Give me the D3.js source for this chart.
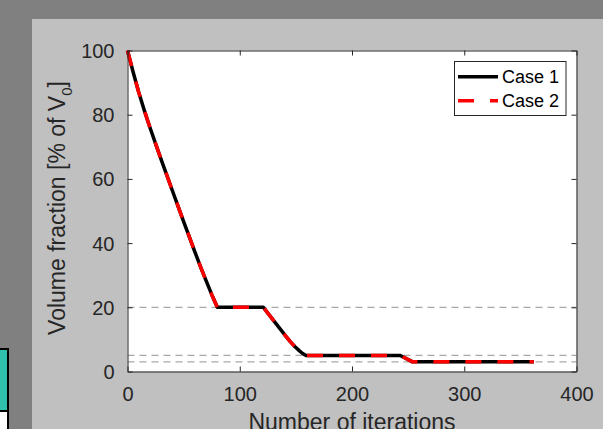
<!DOCTYPE html>
<html>
<head>
<meta charset="utf-8">
<script src="https://cdn.jsdelivr.net/npm/d3@7"></script>
<style>
  html, body { margin: 0; padding: 0; background: #808080; }
  svg { display: block; }
  text { font-family: "Liberation Sans", Arial, sans-serif; }
</style>
</head>
<body>
<svg id="chart" width="603" height="429"></svg>
<script>
// ---- data ----
const iterations = [0, 5, 10, 15, 20, 25, 30, 35, 40, 45, 50, 55, 60, 65, 70, 75, 80,
                    121, 125, 129, 133, 137, 141, 145, 149, 153, 156, 159,
                    243, 254, 362];
const case1 = [100, 93.3, 87, 81.3, 76, 71, 66, 61.2, 56.3, 51.5, 46.7, 42, 37.3, 32.7, 28.3, 24, 20,
               20, 18.2, 16.4, 14.6, 12.8, 11.0, 9.3, 7.8, 6.5, 5.6, 5,
               5, 3, 3];
const case2 = case1.slice();
const seriesNames = ["Case 1", "Case 2"];
const refLevels = [20, 5, 3];
const xTicks = [0, 100, 200, 300, 400];
const yTicks = [0, 20, 40, 60, 80, 100];
const xLabel = "Number of iterations";

// ---- drawing ----
const svg = d3.select("#chart");

// figure panel
svg.append("rect").attr("x", 0).attr("y", 0).attr("width", 603).attr("height", 429).attr("fill", "#808080");
svg.append("rect").attr("x", 32).attr("y", 19).attr("width", 571).attr("height", 410).attr("fill", "#c0c0c0");

// partial widget on left
svg.append("rect").attr("x", -10).attr("y", 349).attr("width", 18).attr("height", 62)
  .attr("fill", "#2ebfad").attr("stroke", "#000").attr("stroke-width", 2);
svg.append("rect").attr("x", -10).attr("y", 411).attr("width", 18).attr("height", 30)
  .attr("fill", "#ffffff").attr("stroke", "#000").attr("stroke-width", 2);

const x = d3.scaleLinear().domain([0, 400]).range([127.5, 576.5]);
const y = d3.scaleLinear().domain([0, 100]).range([371.5, 50.5]);

// plot background
svg.append("rect").attr("x", x(0)).attr("y", y(100))
  .attr("width", x(400) - x(0)).attr("height", y(0) - y(100)).attr("fill", "#ffffff");

// reference dashed lines
svg.append("g").selectAll("line").data(refLevels).join("line")
  .attr("x1", x(0)).attr("x2", x(400))
  .attr("y1", d => y(d)).attr("y2", d => y(d))
  .attr("stroke", "#a8a8a8").attr("stroke-width", 1.2).attr("stroke-dasharray", "7,5");

// series
const pts1 = iterations.map((it, i) => [it, case1[i]]);
const pts2 = iterations.map((it, i) => [it, case2[i]]);
const line = d3.line().x(d => x(d[0])).y(d => y(d[1]));

svg.append("path").datum(pts1).attr("d", line)
  .attr("fill", "none").attr("stroke", "#000").attr("stroke-width", 3.5)
  .attr("stroke-linejoin", "round");
svg.append("path").datum(pts2).attr("d", line)
  .attr("fill", "none").attr("stroke", "#ff0000").attr("stroke-width", 3.5)
  .attr("stroke-dasharray", "16,16").attr("stroke-linejoin", "round");

// axes (ticks inward, box)
const axColor = "#262626";
const gx = svg.append("g").attr("transform", `translate(0,${y(0)})`)
  .call(d3.axisBottom(x).tickValues(xTicks).tickSizeInner(-5).tickSizeOuter(0).tickPadding(14).tickFormat(d3.format("d")));
const gxTop = svg.append("g").attr("transform", `translate(0,${y(100)})`)
  .call(d3.axisTop(x).tickValues(xTicks).tickSizeInner(-5).tickSizeOuter(0).tickFormat(""));
const gy = svg.append("g").attr("transform", `translate(${x(0)},0)`)
  .call(d3.axisLeft(y).tickValues(yTicks).tickSizeInner(-5).tickSizeOuter(0).tickPadding(13).tickFormat(d3.format("d")));
const gyR = svg.append("g").attr("transform", `translate(${x(400)},0)`)
  .call(d3.axisRight(y).tickValues(yTicks).tickSizeInner(-5).tickSizeOuter(0).tickFormat(""));

[gx, gxTop, gy, gyR].forEach(g => {
  g.select(".domain").attr("stroke", axColor).attr("stroke-width", 1);
  g.selectAll(".tick line").attr("stroke", axColor).attr("stroke-width", 1);
  g.selectAll(".tick text").attr("fill", axColor).style("font-size", "20px")
    .style("font-family", '"Liberation Sans", Arial, sans-serif');
});
gx.selectAll(".tick text").attr("dy", null).attr("y", 29);
gy.selectAll(".tick text").attr("dy", "0.35em");

// axis labels
svg.append("text").attr("x", (x(0) + x(400)) / 2).attr("y", 430)
  .attr("text-anchor", "middle").attr("fill", axColor).style("font-size", "23px")
  .text(xLabel);

const yl = svg.append("text").attr("transform", `translate(65,208) rotate(-90)`)
  .attr("text-anchor", "middle").attr("fill", axColor).style("font-size", "23px");
yl.append("tspan").text("Volume fraction [% of V");
yl.append("tspan").attr("dy", 7).style("font-size", "15px").text("0");
yl.append("tspan").attr("dy", -7).text("]");

// legend
const lg = svg.append("g");
lg.append("rect").attr("x", 454.5).attr("y", 61.5).attr("width", 111.5).attr("height", 54)
  .attr("fill", "#fff").attr("stroke", axColor).attr("stroke-width", 1);
const legendItems = [
  { name: seriesNames[0], color: "#000", dash: null, yy: 76.7 },
  { name: seriesNames[1], color: "#ff0000", dash: "16,16", yy: 100.7 }
];
legendItems.forEach(d => {
  lg.append("line").attr("x1", 458).attr("x2", 498).attr("y1", d.yy).attr("y2", d.yy)
    .attr("stroke", d.color).attr("stroke-width", 3.5).attr("stroke-dasharray", d.dash);
  lg.append("text").attr("x", 502).attr("y", d.yy + 6.6).attr("fill", "#000")
    .style("font-size", "18px").text(d.name);
});
</script>
</body>
</html>
